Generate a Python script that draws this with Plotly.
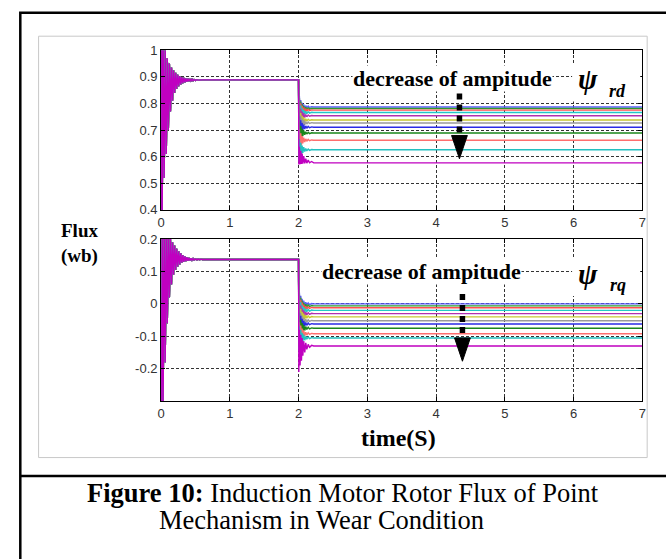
import plotly.graph_objects as go

# ---------------- data ----------------
# initial start-up transient, shared by every series (time in s)
init_t = [0, 0.006, 0.015, 0.030, 0.045, 0.060, 0.075, 0.090, 0.105, 0.120,
          0.135, 0.150, 0.165, 0.180, 0.195, 0.210, 0.225, 0.240, 0.255, 0.270,
          0.285, 0.300, 0.315, 0.330, 0.345, 0.360, 0.375, 0.390, 0.405, 0.420,
          0.435, 0.450, 0.465, 0.480, 0.50, 0.52, 0.54, 0.56, 0.58, 0.60]
rd_init = [0.0, 1.08, 0.35, 1.03, 0.52, 1.00, 0.61, 0.97, 0.70, 0.95,
           0.77, 0.935, 0.81, 0.925, 0.84, 0.915, 0.855, 0.908, 0.865, 0.903,
           0.872, 0.899, 0.877, 0.896, 0.880, 0.894, 0.882, 0.893, 0.884, 0.892,
           0.885, 0.891, 0.886, 0.890, 0.887, 0.8895, 0.888, 0.8892, 0.8885, 0.889]
rq_init = [0.0, -0.35, 0.26, -0.30, 0.24, -0.18, 0.23, -0.06, 0.215, 0.02,
           0.20, 0.06, 0.19, 0.09, 0.18, 0.105, 0.17, 0.115, 0.162, 0.122,
           0.156, 0.127, 0.151, 0.130, 0.147, 0.132, 0.144, 0.133, 0.142, 0.134,
           0.1405, 0.135, 0.1395, 0.1355, 0.139, 0.136, 0.1385, 0.1365, 0.138, 0.137]

# healthy steady values before the wear step at t = 2 s
rd_pre = 0.889
rq_pre = 0.137

# times after the step and the read settling ripple around each final level
step_t = [2.0, 2.004, 2.012, 2.022, 2.032, 2.042, 2.052, 2.062, 2.075, 2.09,
          2.105, 2.12, 2.14, 2.16, 2.19, 2.22, 7.0]
rd_ripple = [-0.045, 0.04, -0.03, 0.026, -0.02, 0.016, -0.012, 0.01, -0.007, 0.005,
             -0.004, 0.003, -0.002, 0.001, 0.0, 0.0]
rd_ripple_last = [-0.006, 0.06, -0.005, 0.045, -0.004, 0.035, -0.003, 0.025, -0.002, 0.016,
                  -0.001, 0.01, 0.0, 0.005, 0.0, 0.0]
rq_ripple = [-0.04, 0.035, -0.03, 0.025, -0.02, 0.016, -0.012, 0.01, -0.007, 0.005,
             -0.004, 0.003, -0.002, 0.001, 0.0, 0.0]
rq_ripple_last = [-0.08, 0.05, -0.06, 0.035, -0.045, 0.025, -0.03, 0.015, -0.02, 0.01,
                  -0.01, 0.005, -0.004, 0.002, 0.0, 0.0]

# final flux levels of the 12 wear cases
rd_levels = [0.787, 0.781, 0.775, 0.766, 0.754, 0.738, 0.727, 0.711, 0.689, 0.662, 0.626, 0.577]
rq_levels = [0.000, -0.006, -0.012, -0.020, -0.030, -0.040, -0.052, -0.062, -0.075, -0.092, -0.105, -0.130]

series_colors = ["#5a5aff", "#2e9a2e", "#ff5050", "#22c8c8", "#b030b0", "#c8c832",
                 "#9a9a9a", "#2a2ae6", "#1a861a", "#ff6e6e", "#22c0c0", "#c000c0"]

x_ticks = [0, 1, 2, 3, 4, 5, 6, 7]
x_ticktext = ["0", "1", "2", "3", "4", "5", "6", "7"]
rd_ticks = [0.4, 0.5, 0.6, 0.7, 0.8, 0.9, 1.0]
rd_ticktext = ["0.4", "0.5", "0.6", "0.7", "0.8", "0.9", "1"]
rq_ticks = [-0.2, -0.1, 0.0, 0.1, 0.2]
rq_ticktext = ["-0.2", "-0.1", "0", "0.1", "0.2"]

# ---------------- figure ----------------
W, H = 666, 559
def px(x):
    return x / W
def py(y):
    return 1 - y / H

fig = go.Figure()
n = len(rd_levels)
for i in range(n):
    rip_d = rd_ripple_last if i == n - 1 else rd_ripple
    rip_q = rq_ripple_last if i == n - 1 else rq_ripple
    xs = init_t + step_t
    yd = rd_init + [rd_pre] + [rd_levels[i] + o for o in rip_d]
    yq = rq_init + [rq_pre] + [rq_levels[i] + o for o in rip_q]
    fig.add_trace(go.Scatter(x=xs, y=yd, mode="lines", xaxis="x", yaxis="y",
                             line=dict(color=series_colors[i], width=1.4), hoverinfo="skip"))
    fig.add_trace(go.Scatter(x=xs, y=yq, mode="lines", xaxis="x2", yaxis="y2",
                             line=dict(color=series_colors[i], width=1.4), hoverinfo="skip"))

tickfont = dict(family="Liberation Sans, Arial", size=13, color="#333")
common_x = dict(range=[0, 7], tickvals=x_ticks, ticktext=x_ticktext, showgrid=True,
                gridcolor="#333", griddash="3px,2px", gridwidth=1, zeroline=False,
                showline=True, linecolor="#000", linewidth=1, mirror="ticks",
                ticks="inside", ticklen=4, tickcolor="#000", tickfont=tickfont,
                domain=[px(159), px(646)], fixedrange=True)
common_y = dict(showgrid=True, gridcolor="#333", griddash="3px,2px", gridwidth=1,
                zeroline=False, showline=True, linecolor="#000", linewidth=1,
                mirror="ticks", ticks="inside", ticklen=4, tickcolor="#000",
                tickfont=tickfont, fixedrange=True)

fig.update_layout(
    width=W, height=H, margin=dict(l=0, r=0, t=0, b=0),
    paper_bgcolor="white", plot_bgcolor="white", showlegend=False,
    xaxis=dict(anchor="y", **common_x),
    xaxis2=dict(anchor="y2", **common_x),
    yaxis=dict(anchor="x", range=[0.4, 1.0], tickvals=rd_ticks, ticktext=rd_ticktext,
               domain=[py(208.5), py(44.5)], **common_y),
    yaxis2=dict(anchor="x2", range=[-0.3, 0.2], tickvals=rq_ticks, ticktext=rq_ticktext,
                domain=[py(405), py(238.5)], **common_y),
)

serif = "Liberation Serif, Times New Roman, serif"
shapes = [
    # outer document frame
    dict(type="rect", xref="paper", yref="paper", x0=px(16.5), x1=px(700), y0=py(6), y1=py(640),
         line=dict(color="black", width=2.5)),
    dict(type="line", xref="paper", yref="paper", x0=px(16.5), x1=px(700), y0=py(482), y1=py(482),
         line=dict(color="black", width=2.5)),
    # light grey figure box
    dict(type="rect", xref="paper", yref="paper", x0=px(35), x1=px(651), y0=py(30), y1=py(463),
         line=dict(color="#c8c8c8", width=1)),
    # white boxes behind psi labels
    dict(type="rect", xref="paper", yref="paper", x0=px(575), x1=px(644), y0=py(59), y1=py(97),
         fillcolor="white", line=dict(width=0), layer="above"),
    dict(type="rect", xref="paper", yref="paper", x0=px(575), x1=px(644), y0=py(259), y1=py(297),
         fillcolor="white", line=dict(width=0), layer="above"),
    # dashed arrows
    dict(type="line", xref="paper", yref="paper", x0=px(461), x1=px(461), y0=py(89), y1=py(129),
         line=dict(color="black", width=5.5, dash="6px,5px"), layer="above"),
    dict(type="path", xref="paper", yref="paper",
         path=f"M {px(453)},{py(132)} L {px(469)},{py(132)} L {px(461)},{py(156)} Z",
         fillcolor="black", line=dict(color="black", width=1), layer="above"),
    dict(type="line", xref="paper", yref="paper", x0=px(464), x1=px(464), y0=py(295), y1=py(337),
         line=dict(color="black", width=5.5, dash="6px,5px"), layer="above"),
    dict(type="path", xref="paper", yref="paper",
         path=f"M {px(456)},{py(340)} L {px(472)},{py(340)} L {px(464)},{py(364)} Z",
         fillcolor="black", line=dict(color="black", width=1), layer="above"),
]
fig.update_layout(shapes=shapes)

def ann(text, x, y, size, xanchor="center", bg=None):
    d = dict(text=text, x=px(x), y=py(y), xref="paper", yref="paper", showarrow=False,
             xanchor=xanchor, yanchor="middle", font=dict(family=serif, size=size, color="black"))
    if bg:
        d["bgcolor"] = bg
        d["borderpad"] = 0
    return d

annotations = [
    ann("<b>decrease of ampitude</b>", 454, 73, 22, bg="white"),
    ann("<b>decrease of ampitude</b>", 422.5, 272, 22, bg="white"),
    ann("<b><i>ψ</i></b>", 591, 74, 29),
    ann("<b><i>rd</i></b>", 621, 86, 18),
    ann("<b><i>ψ</i></b>", 591, 274, 29),
    ann("<b><i>rq</i></b>", 621, 286, 18),
    ann("<b>Flux</b><br><b>(wb)</b>", 76, 243, 19),
    ann("<b>time(S)</b>", 399, 443, 24),
    ann("<b>Figure 10:</b> Induction Motor Rotor Flux of Point", 82, 499, 26.5, xanchor="left"),
    ann("Mechanism in Wear Condition", 155, 527, 26.5, xanchor="left"),
]
fig.update_layout(annotations=annotations)

fig.write_html("out.html", config={"displayModeBar": False})
